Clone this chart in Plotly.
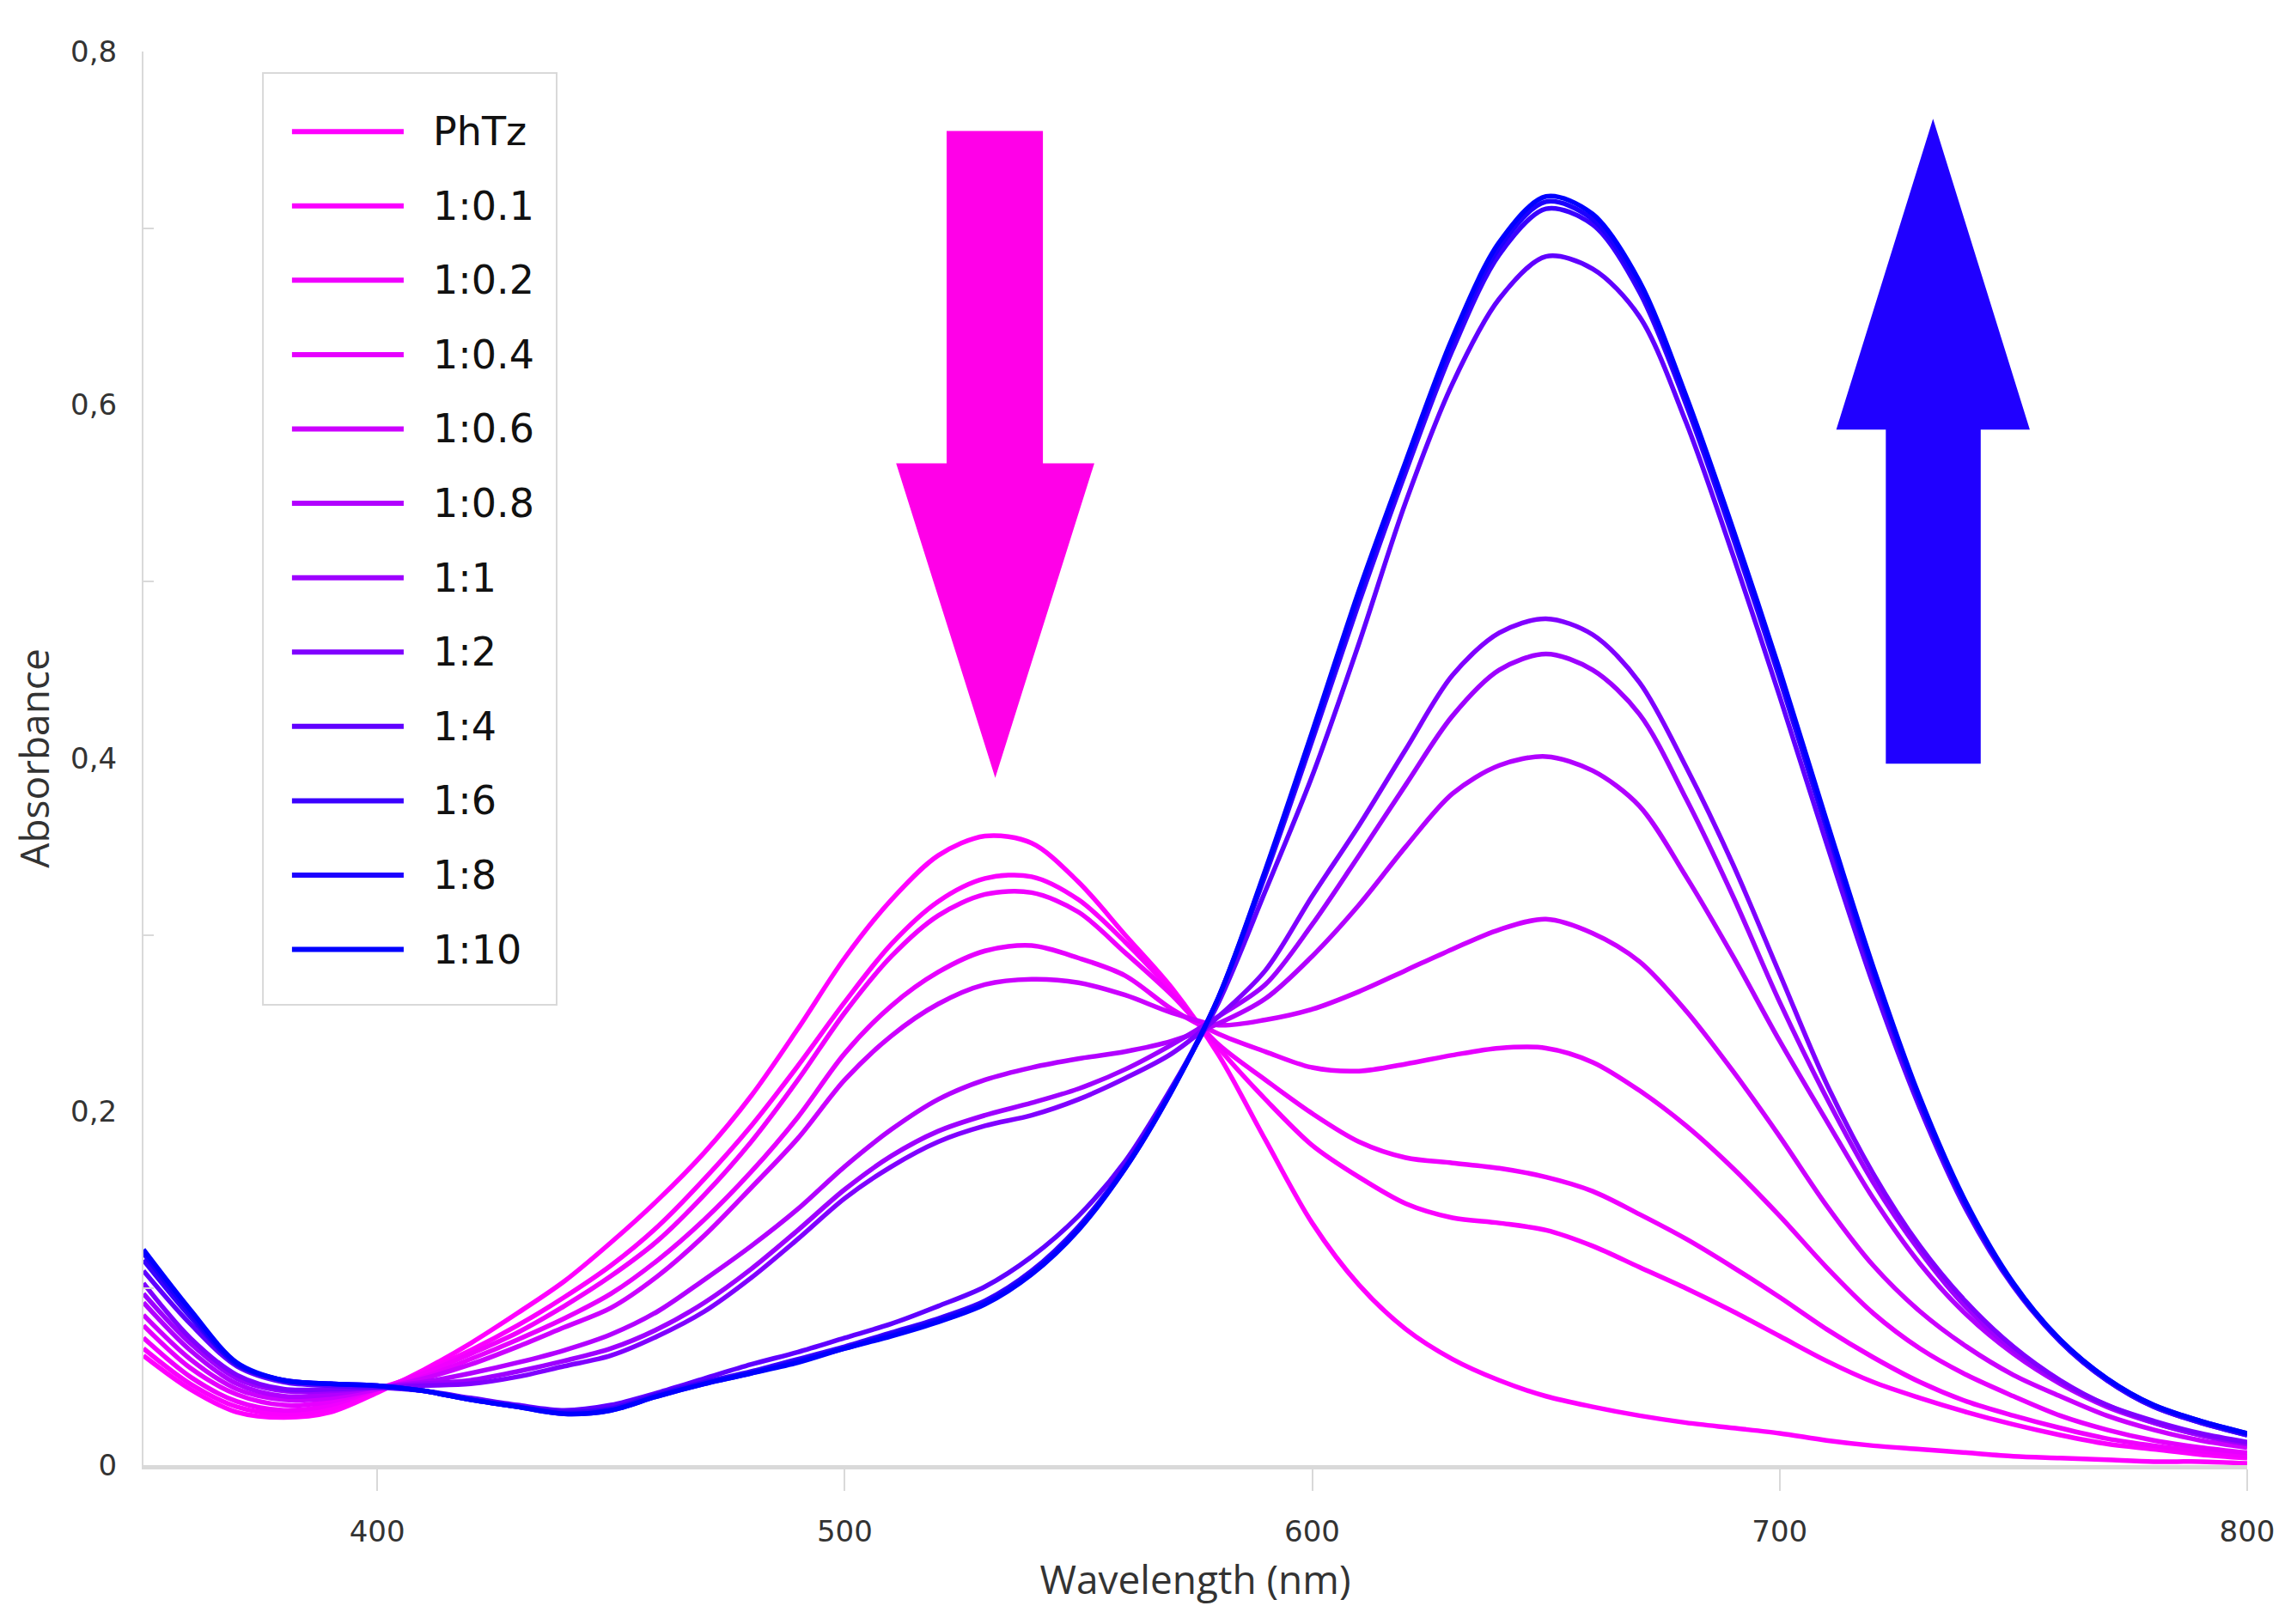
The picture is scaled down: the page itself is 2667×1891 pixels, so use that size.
import plotly.graph_objects as go

wavelength = [350, 360, 370, 380, 390, 400, 410, 420, 430, 440, 450, 460, 470, 480, 490,
              500, 510, 520, 530, 540, 550, 560, 570, 580, 590, 600, 610, 620, 630, 640,
              650, 660, 670, 680, 690, 700, 710, 720, 730, 740, 750, 760, 770, 780, 790, 800]

series_names = ["PhTz", "1:0.1", "1:0.2", "1:0.4", "1:0.6", "1:0.8",
                "1:1", "1:2", "1:4", "1:6", "1:8", "1:10"]

series_colors = ["#FF00FF", "#FA00FF", "#F000FF", "#E600FF", "#CC00FF", "#B200FF",
                 "#9E00FF", "#8000FF", "#6000FF", "#3A00FF", "#1C00FF", "#0000FF"]

a_phtz = [0.062, 0.043, 0.030, 0.027, 0.030, 0.041, 0.054, 0.069, 0.086, 0.104, 0.126, 0.150, 0.177, 0.209, 0.247,
          0.287, 0.320, 0.345, 0.356, 0.352, 0.330, 0.300, 0.270, 0.232, 0.184, 0.137, 0.102, 0.077, 0.060, 0.048,
          0.039, 0.033, 0.028, 0.024, 0.021, 0.018, 0.014, 0.011, 0.009, 0.007, 0.005, 0.004, 0.003, 0.002, 0.002, 0.001]

a_01 = [0.066, 0.046, 0.033, 0.029, 0.032, 0.042, 0.053, 0.065, 0.079, 0.095, 0.113, 0.135, 0.162, 0.192, 0.226,
        0.262, 0.295, 0.319, 0.332, 0.333, 0.320, 0.296, 0.268, 0.236, 0.207, 0.181, 0.163, 0.148, 0.140, 0.137,
        0.133, 0.124, 0.112, 0.100, 0.087, 0.073, 0.059, 0.047, 0.038, 0.030, 0.023, 0.017, 0.012, 0.009, 0.006, 0.004]

a_02 = [0.072, 0.050, 0.036, 0.031, 0.034, 0.043, 0.052, 0.063, 0.075, 0.090, 0.107, 0.127, 0.153, 0.183, 0.218,
        0.256, 0.288, 0.311, 0.323, 0.324, 0.313, 0.290, 0.266, 0.238, 0.218, 0.199, 0.183, 0.174, 0.171, 0.168,
        0.163, 0.155, 0.142, 0.128, 0.112, 0.095, 0.077, 0.061, 0.047, 0.036, 0.028, 0.021, 0.015, 0.011, 0.008, 0.005]

a_04 = [0.079, 0.055, 0.040, 0.034, 0.036, 0.043, 0.050, 0.060, 0.071, 0.083, 0.097, 0.116, 0.139, 0.166, 0.197,
        0.233, 0.260, 0.279, 0.291, 0.294, 0.287, 0.277, 0.258, 0.244, 0.234, 0.225, 0.223, 0.227, 0.232, 0.236,
        0.236, 0.228, 0.212, 0.192, 0.168, 0.141, 0.112, 0.086, 0.066, 0.051, 0.039, 0.028, 0.020, 0.014, 0.010, 0.007]

a_06 = [0.085, 0.060, 0.043, 0.037, 0.038, 0.043, 0.049, 0.057, 0.067, 0.078, 0.089, 0.107, 0.130, 0.157, 0.185,
        0.218, 0.243, 0.261, 0.272, 0.275, 0.273, 0.266, 0.256, 0.249, 0.252, 0.258, 0.268, 0.280, 0.292, 0.303,
        0.309, 0.301, 0.285, 0.257, 0.223, 0.186, 0.147, 0.113, 0.087, 0.067, 0.051, 0.039, 0.028, 0.020, 0.014, 0.010]

a_08 = [0.092, 0.065, 0.046, 0.039, 0.040, 0.044, 0.047, 0.052, 0.058, 0.065, 0.074, 0.087, 0.105, 0.124, 0.145,
        0.169, 0.190, 0.207, 0.218, 0.225, 0.230, 0.234, 0.240, 0.250, 0.264, 0.288, 0.317, 0.350, 0.380, 0.396,
        0.401, 0.393, 0.373, 0.333, 0.288, 0.240, 0.195, 0.151, 0.114, 0.085, 0.063, 0.046, 0.033, 0.024, 0.017, 0.012]

a_1 = [0.097, 0.069, 0.049, 0.042, 0.042, 0.044, 0.046, 0.048, 0.053, 0.059, 0.066, 0.077, 0.092, 0.111, 0.133,
       0.156, 0.175, 0.189, 0.198, 0.205, 0.213, 0.224, 0.238, 0.254, 0.272, 0.306, 0.345, 0.385, 0.424, 0.450,
       0.459, 0.450, 0.425, 0.377, 0.322, 0.262, 0.208, 0.160, 0.121, 0.089, 0.065, 0.047, 0.034, 0.024, 0.017, 0.012]

a_2 = [0.103, 0.072, 0.051, 0.043, 0.043, 0.044, 0.045, 0.046, 0.050, 0.056, 0.062, 0.073, 0.087, 0.106, 0.128,
       0.151, 0.169, 0.183, 0.192, 0.198, 0.207, 0.219, 0.233, 0.254, 0.280, 0.322, 0.362, 0.405, 0.447, 0.471,
       0.479, 0.470, 0.443, 0.395, 0.340, 0.278, 0.216, 0.165, 0.124, 0.092, 0.067, 0.048, 0.034, 0.025, 0.018, 0.013]

a_4 = [0.110, 0.080, 0.056, 0.047, 0.045, 0.044, 0.042, 0.038, 0.034, 0.031, 0.034, 0.041, 0.049, 0.057, 0.064,
       0.072, 0.080, 0.090, 0.101, 0.118, 0.141, 0.172, 0.214, 0.262, 0.325, 0.390, 0.465, 0.545, 0.612, 0.660,
       0.684, 0.677, 0.650, 0.590, 0.515, 0.435, 0.352, 0.272, 0.202, 0.144, 0.101, 0.070, 0.048, 0.033, 0.024, 0.017]

a_6 = [0.116, 0.084, 0.057, 0.048, 0.046, 0.045, 0.042, 0.037, 0.033, 0.030, 0.032, 0.040, 0.047, 0.053, 0.060,
       0.067, 0.075, 0.083, 0.093, 0.110, 0.135, 0.169, 0.213, 0.265, 0.334, 0.410, 0.488, 0.562, 0.631, 0.685,
       0.711, 0.702, 0.664, 0.600, 0.525, 0.445, 0.360, 0.278, 0.205, 0.146, 0.102, 0.070, 0.048, 0.033, 0.024, 0.017]

a_8 = [0.120, 0.086, 0.057, 0.048, 0.046, 0.045, 0.042, 0.037, 0.033, 0.029, 0.031, 0.039, 0.046, 0.052, 0.059,
       0.066, 0.074, 0.082, 0.092, 0.109, 0.134, 0.168, 0.212, 0.265, 0.336, 0.413, 0.492, 0.566, 0.635, 0.689,
       0.715, 0.705, 0.667, 0.602, 0.527, 0.447, 0.362, 0.280, 0.206, 0.147, 0.102, 0.071, 0.049, 0.034, 0.025, 0.018]

a_10 = [0.122, 0.088, 0.058, 0.048, 0.046, 0.045, 0.042, 0.037, 0.033, 0.029, 0.031, 0.039, 0.046, 0.052, 0.058,
        0.066, 0.073, 0.081, 0.091, 0.108, 0.133, 0.168, 0.212, 0.265, 0.337, 0.415, 0.495, 0.568, 0.638, 0.692,
        0.718, 0.708, 0.670, 0.605, 0.530, 0.450, 0.365, 0.282, 0.208, 0.148, 0.103, 0.071, 0.049, 0.034, 0.025, 0.018]

series_values = [a_phtz, a_01, a_02, a_04, a_06, a_08, a_1, a_2, a_4, a_6, a_8, a_10]

y_tickvals = [0, 0.2, 0.4, 0.6, 0.8]
y_ticktext = ["0", "0,2", "0,4", "0,6", "0,8"]
y_minor_ticks = [0.1, 0.3, 0.5, 0.7]
x_tickvals = [400, 500, 600, 700, 800]
x_ticktext = ["400", "500", "600", "700", "800"]

# arrow outlines (data coordinates)
down_arrow = dict(shaft=(521.8, 542.4), top=0.755, head_base=0.567, head=(511.0, 553.4), tip=(532.2, 0.389))
up_arrow = dict(shaft=(722.7, 743.0), bottom=0.397, head_base=0.586, head=(712.1, 753.5), tip=(732.8, 0.762))

fig = go.Figure()
for name, vals, col in zip(series_names, series_values, series_colors):
    fig.add_trace(go.Scatter(x=wavelength, y=vals, name=name, mode="lines",
                             line=dict(color=col, width=5.5, shape="spline", smoothing=0.9),
                             showlegend=False))

# arrows
d = down_arrow
p_down = (f"M{d['shaft'][0]},{d['top']} L{d['shaft'][1]},{d['top']} L{d['shaft'][1]},{d['head_base']} "
          f"L{d['head'][1]},{d['head_base']} L{d['tip'][0]},{d['tip'][1]} L{d['head'][0]},{d['head_base']} "
          f"L{d['shaft'][0]},{d['head_base']} Z")
u = up_arrow
p_up = (f"M{u['shaft'][0]},{u['bottom']} L{u['shaft'][1]},{u['bottom']} L{u['shaft'][1]},{u['head_base']} "
        f"L{u['head'][1]},{u['head_base']} L{u['tip'][0]},{u['tip'][1]} L{u['head'][0]},{u['head_base']} "
        f"L{u['shaft'][0]},{u['head_base']} Z")
shapes = [
    dict(type="path", path=p_down, xref="x", yref="y", fillcolor="#FF00E8", line=dict(width=0)),
    dict(type="path", path=p_up, xref="x", yref="y", fillcolor="#2000FF", line=dict(width=0)),
]

# custom legend (paper coordinates)
leg_x0, leg_x1, leg_y0, leg_y1 = 0.0568, 0.1964, 0.3256, 0.9848
shapes.append(dict(type="rect", xref="paper", yref="paper", x0=leg_x0, x1=leg_x1, y0=leg_y0, y1=leg_y1,
                   line=dict(color="#D9D9D9", width=2), fillcolor="rgba(255,255,255,0)"))
annotations = []
item_top, item_step = 0.9434, 0.0526
for i, (name, col) in enumerate(zip(series_names, series_colors)):
    yy = item_top - item_step * i
    shapes.append(dict(type="line", xref="paper", yref="paper", x0=0.0706, x1=0.1237, y0=yy, y1=yy,
                       line=dict(color=col, width=6)))
    annotations.append(dict(xref="paper", yref="paper", x=0.1368, y=yy, text=name, showarrow=False,
                            xanchor="left", yanchor="middle",
                            font=dict(family="DejaVu Sans", size=46, color="#111111")))

fig.update_layout(
    width=2651, height=1875, autosize=False,
    margin=dict(l=159, r=43, t=52, b=177),
    paper_bgcolor="white", plot_bgcolor="white",
    shapes=shapes, annotations=annotations,
    showlegend=False,
)
fig.update_xaxes(
    range=[350, 800], tickmode="array", tickvals=x_tickvals, ticktext=x_ticktext,
    ticks="outside", ticklen=25, tickwidth=2, tickcolor="#D9D9D9",
    showline=True, linecolor="#D9D9D9", linewidth=5, showgrid=False, zeroline=False,
    tickfont=dict(family="DejaVu Sans", size=34, color="#333333"), ticklabelstandoff=18,
    title=dict(text="Wavelength (nm)", font=dict(family="Open Sans", size=46, color="#333333"), standoff=24),
)
fig.update_yaxes(
    range=[0, 0.8], tickmode="array", tickvals=y_tickvals, ticktext=y_ticktext,
    ticks="", showline=True, linecolor="#D9D9D9", linewidth=2, showgrid=False, zeroline=False,
    minor=dict(tickmode="array", tickvals=y_minor_ticks, ticks="inside", ticklen=12, tickwidth=2,
               tickcolor="#D9D9D9", showgrid=False),
    tickfont=dict(family="DejaVu Sans", size=34, color="#333333"), ticklabelstandoff=22,
    title=dict(text="Absorbance", font=dict(family="Open Sans", size=46, color="#333333"), standoff=18),
)

fig.write_html("out.html")
